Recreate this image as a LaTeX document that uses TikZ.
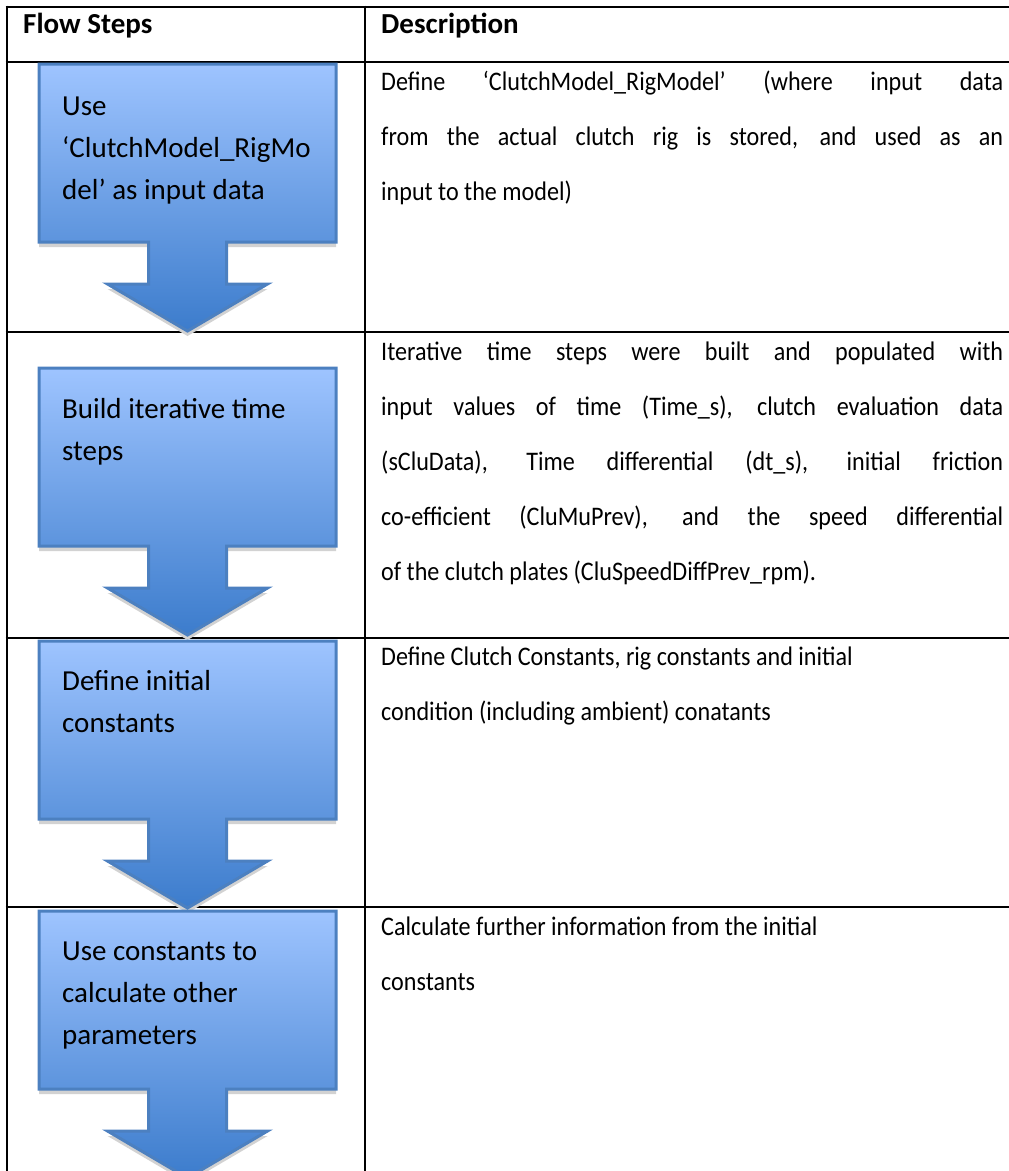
\documentclass[tikz,border=0pt]{standalone}
\usepackage{fontspec}
\setmainfont{Carlito}
\newfontfamily\descfont[FakeStretch=0.9]{Carlito}
\definecolor{arrowtop}{RGB}{158,196,255}
\definecolor{arrowbottom}{RGB}{60,124,204}
\definecolor{arrowline}{RGB}{76,128,192}
\definecolor{arrowshadow}{RGB}{210,210,210}

% lines of a cell: justified / ragged
\newcommand{\jline}[1]{\hbox to \hsize{#1}}
\newcommand{\rline}[1]{\hbox{#1}}
\newcommand{\desclines}[1]{\vtop{\hsize=622pt\baselineskip=55pt\lineskiplimit=-100pt #1}}
\newcommand{\steplines}[1]{\vtop{\baselineskip=42pt\lineskiplimit=-100pt #1}}

\begin{document}
\begin{tikzpicture}[x=1pt,y=-1pt,font=\descfont\fontsize{26.8pt}{30pt}\selectfont,
   rule/.style={line width=2.6pt},
   cell/.style={anchor=base west,inner sep=0pt},
   stepcell/.style={cell,font=\normalfont\fontsize{29pt}{36pt}\selectfont},
   head/.style={cell,font=\normalfont\fontsize{29pt}{36pt}\selectfont\bfseries}]
  \useasboundingbox (0,0) rectangle (1009,1171);

  % table rules
  \foreach \ry in {7,62,332,638,907}
    \draw[rule] (5.7,\ry) -- (1012,\ry);
  \draw[rule] (7,5.7) -- (7,1175);
  \draw[rule] (365,5.7) -- (365,1175);

  \node[head] (hsteps) at (23,33) {Flow Steps};
  \node[head] (hdesc) at (381,33) {Description};

  % block arrows, one per row
  \foreach \ay in {64,368,641,911} {
    \begin{scope}[shift={(187.5,\ay)}]
      \fill[arrowshadow,yshift=-5pt] (-148.5,0) -- (148.5,0) -- (148.5,178) -- (39,178) -- (39,220)
        -- (80,220) -- (0,267) -- (-80,220) -- (-39,220) -- (-39,178) -- (-148.5,178) -- cycle;
      \shadedraw[top color=arrowtop,bottom color=arrowbottom,draw=arrowline,line width=3pt]
        (-148.5,0) -- (148.5,0) -- (148.5,178) -- (39,178) -- (39,220)
        -- (80,220) -- (0,267) -- (-80,220) -- (-39,220) -- (-39,178) -- (-148.5,178) -- cycle;
    \end{scope}
  }

  % step labels
  \node[stepcell] (s1) at (62,115) {\steplines{\rline{Use}\rline{‘ClutchModel\_RigMo}\rline{del’ as input data}}};
  \node[stepcell] (s2) at (62,418) {\steplines{\rline{Build iterative time}\rline{steps}}};
  \node[stepcell] (s3) at (62,690) {\steplines{\rline{Define initial}\rline{constants}}};
  \node[stepcell] (s4) at (62,960) {\steplines{\rline{Use constants to}\rline{calculate other}\rline{parameters}}};

  % descriptions
  \node[cell] (d1) at (381,90) {\desclines{%
    \jline{Define ‘ClutchModel\_RigModel’ (where input data}%
    \jline{from the actual clutch rig is stored, and used as an}%
    \rline{input to the model)}}};
  \node[cell] (d2) at (381,360) {\desclines{%
    \jline{Iterative time steps were built and populated with}%
    \jline{input values of time (Time\_s), clutch evaluation data}%
    \jline{(sCluData), Time differential (dt\_s), initial friction}%
    \jline{co-efficient (CluMuPrev), and the speed differential}%
    \rline{of the clutch plates (CluSpeedDiffPrev\_rpm).}}};
  \node[cell] (d3) at (381,665) {\desclines{%
    \rline{Define Clutch Constants, rig constants and initial}%
    \rline{condition (including ambient) conatants}}};
  \node[cell] (d4) at (381,935) {\desclines{%
    \rline{Calculate further information from the initial}%
    \rline{constants}}};
\end{tikzpicture}
\end{document}
